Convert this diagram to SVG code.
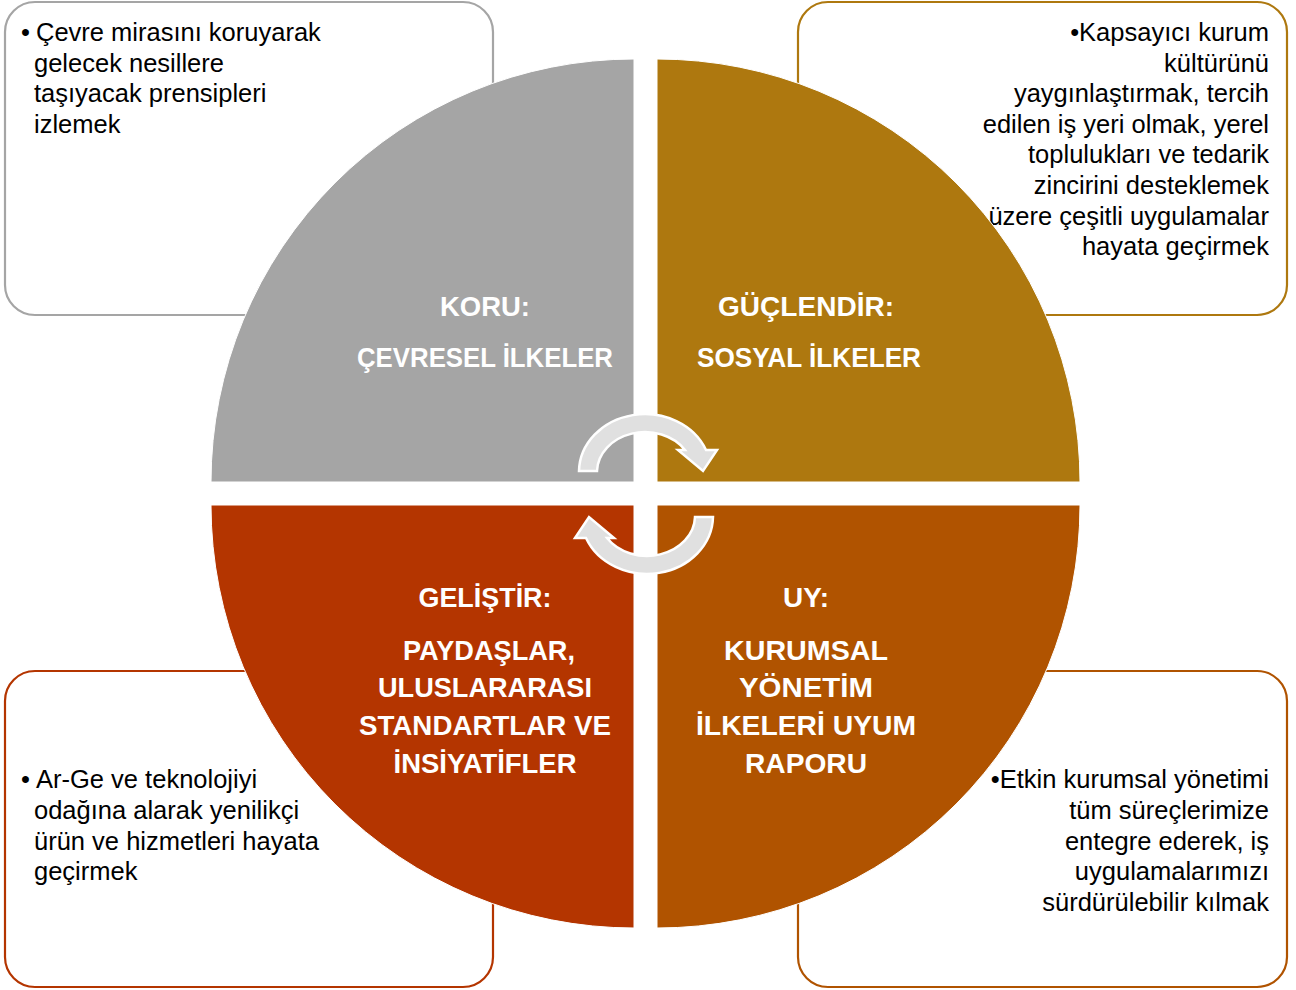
<svg xmlns="http://www.w3.org/2000/svg" width="1296" height="990" viewBox="0 0 1296 990">
<style>
.box{fill:#ffffff;stroke-width:2.2}
.body{font-family:"Liberation Sans",Arial,sans-serif;font-size:25.5px;fill:#000000}
.lbl{font-family:"Liberation Sans",Arial,sans-serif;font-size:28px;font-weight:bold;fill:#ffffff;text-anchor:middle}
.r{text-anchor:end}
.arrow{fill:#e0e0e0;stroke:#ffffff;stroke-width:2.5;stroke-linejoin:miter}
</style>
<rect width="1296" height="990" fill="#ffffff"/>
<g id="box-tl">
<rect class="box" x="5" y="2" width="488" height="313" rx="30" stroke="#a5a5a5"/>
<text class="body"><tspan x="21" y="41">•</tspan><tspan x="36" y="41">Çevre mirasını koruyarak</tspan><tspan x="34" y="71.5">gelecek nesillere</tspan><tspan x="34" y="102">taşıyacak prensipleri</tspan><tspan x="34" y="132.5">izlemek</tspan></text>
</g>
<g id="box-tr">
<rect class="box" x="798" y="2" width="489" height="313" rx="30" stroke="#ae780f"/>
<text class="body r"><tspan x="1269" y="41">•Kapsayıcı kurum</tspan><tspan x="1269" y="71.5">kültürünü</tspan><tspan x="1269" y="102">yaygınlaştırmak, tercih</tspan><tspan x="1269" y="132.5">edilen iş yeri olmak, yerel</tspan><tspan x="1269" y="163">toplulukları ve tedarik</tspan><tspan x="1269" y="194">zincirini desteklemek</tspan><tspan x="1269" y="224.5">üzere çeşitli uygulamalar</tspan><tspan x="1269" y="255">hayata geçirmek</tspan></text>
</g>
<g id="box-bl">
<rect class="box" x="5" y="671" width="488" height="316" rx="30" stroke="#b43500"/>
<text class="body"><tspan x="21" y="788">•</tspan><tspan x="36" y="788">Ar-Ge ve teknolojiyi</tspan><tspan x="34" y="819">odağına alarak yenilikçi</tspan><tspan x="34" y="850">ürün ve hizmetleri hayata</tspan><tspan x="34" y="880">geçirmek</tspan></text>
</g>
<g id="box-br">
<rect class="box" x="798" y="671" width="489" height="316" rx="30" stroke="#b05300"/>
<text class="body r"><tspan x="1269" y="788">•Etkin kurumsal yönetimi</tspan><tspan x="1269" y="819">tüm süreçlerimize</tspan><tspan x="1269" y="850">entegre ederek, iş</tspan><tspan x="1269" y="880">uygulamalarımızı</tspan><tspan x="1269" y="911">sürdürülebilir kılmak</tspan></text>
</g>
<g id="q-koru">
<path d="M634,482 L211,482 A423,423 0 0 1 634,59 Z" fill="#a5a5a5" stroke="#ffffff" stroke-width="1"/>
<text class="lbl" x="485" y="316" textLength="90" lengthAdjust="spacingAndGlyphs">KORU:</text>
<text class="lbl" x="485" y="367" textLength="256" lengthAdjust="spacingAndGlyphs">ÇEVRESEL İLKELER</text>
</g>
<g id="q-guclendir">
<path d="M657,482 L657,59 A423,423 0 0 1 1080,482 Z" fill="#ae780f" stroke="#ffffff" stroke-width="1"/>
<text class="lbl" x="806" y="316" textLength="176" lengthAdjust="spacingAndGlyphs">GÜÇLENDİR:</text>
<text class="lbl" x="809" y="367" textLength="224" lengthAdjust="spacingAndGlyphs">SOSYAL İLKELER</text>
</g>
<g id="q-gelistir">
<path d="M634,505 L634,928 A423,423 0 0 1 211,505 Z" fill="#b43500" stroke="#ffffff" stroke-width="1"/>
<text class="lbl" x="485" y="607" textLength="133" lengthAdjust="spacingAndGlyphs">GELİŞTİR:</text>
<text class="lbl" x="489" y="660" textLength="172" lengthAdjust="spacingAndGlyphs">PAYDAŞLAR,</text>
<text class="lbl" x="485" y="697" textLength="214" lengthAdjust="spacingAndGlyphs">ULUSLARARASI</text>
<text class="lbl" x="485" y="735" textLength="252" lengthAdjust="spacingAndGlyphs">STANDARTLAR VE</text>
<text class="lbl" x="485" y="773" textLength="183" lengthAdjust="spacingAndGlyphs">İNSİYATİFLER</text>
</g>
<g id="q-uy">
<path d="M657,505 L1080,505 A423,423 0 0 1 657,928 Z" fill="#b05300" stroke="#ffffff" stroke-width="1"/>
<text class="lbl" x="806" y="607" textLength="46" lengthAdjust="spacingAndGlyphs">UY:</text>
<text class="lbl" x="806" y="660" textLength="164" lengthAdjust="spacingAndGlyphs">KURUMSAL</text>
<text class="lbl" x="806" y="697" textLength="134" lengthAdjust="spacingAndGlyphs">YÖNETİM</text>
<text class="lbl" x="806" y="735" textLength="220" lengthAdjust="spacingAndGlyphs">İLKELERİ UYUM</text>
<text class="lbl" x="806" y="773" textLength="122" lengthAdjust="spacingAndGlyphs">RAPORU</text>
</g>
<g id="connectors">
<path id="arrow-top" class="arrow" d="M579,471 A66,58 0 0 1 706,450 L717,450 L703,471 L678,450 L685,450 A48,40 0 0 0 597,471 Z"/>
<path id="arrow-bottom" class="arrow" d="M579,471 A66,58 0 0 1 706,450 L717,450 L703,471 L678,450 L685,450 A48,40 0 0 0 597,471 Z" transform="rotate(180 646 494)"/>
</g>
</svg>
